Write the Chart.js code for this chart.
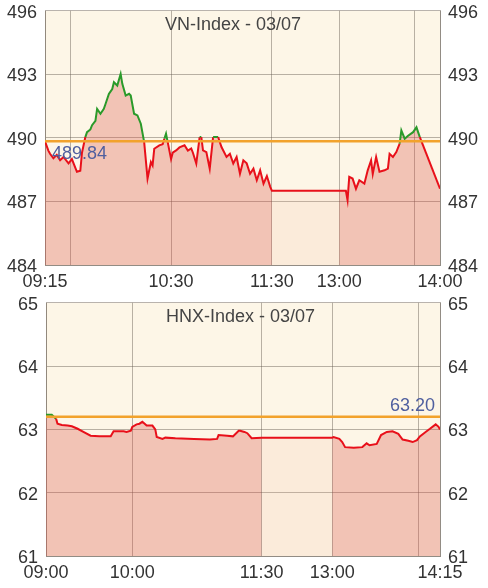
<!DOCTYPE html>
<html>
<head>
<meta charset="utf-8">
<script src="https://cdn.jsdelivr.net/npm/chart.js@4"></script>
<style>
  html, body { margin: 0; padding: 0; background: #fff; }
  .box { position: absolute; left: 0; width: 488px; }
  #vn-box { top: 0; height: 292px; }
  #hnx-box { top: 292px; height: 296px; }
</style>
</head>
<body>
<div class="box" id="vn-box"><canvas id="vn-chart"></canvas></div>
<div class="box" id="hnx-box"><canvas id="hnx-chart"></canvas></div>
<script>
// VN-Index intraday
const vnTimes = [
  '09:15', '09:17', '09:18', '09:20', '09:22', '09:24', '09:26', '09:29', '09:31', '09:33',
  '09:34', '09:36', '09:37', '09:39', '09:40', '09:42', '09:43', '09:45', '09:46', '09:48',
  '09:50', '09:51', '09:53', '09:55', '09:56', '09:58', '10:00', '10:01', '10:03', '10:05',
  '10:06', '10:08', '10:10', '10:12', '10:14', '10:16', '10:18', '10:19', '10:20', '10:23',
  '10:25', '10:26', '10:27', '10:28', '10:30', '10:31', '10:33', '10:35', '10:38', '10:40',
  '10:42', '10:43', '10:45', '10:47', '10:48', '10:49', '10:51', '10:53', '10:55', '10:58',
  '11:00', '11:03', '11:05', '11:07', '11:09', '11:11', '11:13', '11:15', '11:17', '11:19',
  '11:21', '11:23', '11:25', '11:27', '11:29', '11:30', '13:00', '13:04', '13:05', '13:06',
  '13:08', '13:10', '13:12', '13:15', '13:17', '13:19', '13:20', '13:22', '13:24', '13:27',
  '13:29', '13:30', '13:32', '13:34', '13:36', '13:37', '13:39', '13:41', '13:44', '13:46',
  '13:48', '14:00',
];
const vnValues = [
  489.84, 489.4, 489.25, 489.04, 489.2, 488.95, 489.1, 488.8, 489.0, 488.6,
  488.4, 488.45, 489.3, 490.04, 490.27, 490.4, 490.6, 490.8, 491.37, 491.14,
  491.37, 491.6, 492.08, 492.31, 492.63, 492.47, 493.02, 492.55, 492.0, 492.08,
  492.0, 491.14, 491.06, 490.67, 489.8, 488.08, 488.86, 488.7, 489.49, 489.65,
  489.7, 489.96, 490.2, 489.8, 489.0, 489.3, 489.41, 489.55, 489.65, 489.4,
  489.5, 489.3, 488.79, 490.04, 490.04, 489.41, 489.33, 488.55, 490.04, 490.04,
  489.57, 489.1, 489.25, 488.79, 489.1, 488.31, 488.94, 488.8, 488.31, 488.55,
  488.0, 488.47, 487.84, 488.2, 487.69, 487.5, 487.5, 487.5, 487.06, 488.16,
  488.08, 487.6, 488.0, 487.84, 488.47, 488.94, 488.3, 489.1, 488.4, 488.47,
  488.55, 489.25, 489.1, 489.33, 489.73, 490.35, 489.96, 490.1, 490.27, 490.5,
  490.04, 487.6,
];
const vnRef = 489.84;
const vnTickTimes = ['09:15', '09:30', '10:30', '11:30', '13:00', '13:45', '14:00'];
const vnTickLabels = ['09:15', '', '10:30', '11:30', '13:00', '', '14:00'];
const vnYTicks = [484, 487, 490, 493, 496];

// HNX-Index intraday
const hnxTimes = [
  '09:00', '09:04', '09:07', '09:08', '09:11', '09:15', '09:18', '09:22', '09:26', '09:31',
  '09:37', '09:45', '09:47', '09:54', '09:56', '09:59', '10:00', '10:03', '10:05', '10:07',
  '10:09', '10:10', '10:14', '10:16', '10:17', '10:21', '10:23', '10:30', '10:43', '10:54',
  '10:59', '11:00', '11:06', '11:10', '11:14', '11:15', '11:18', '11:20', '11:23', '11:30',
  '13:00', '13:01', '13:05', '13:07', '13:09', '13:15', '13:21', '13:24', '13:26', '13:31',
  '13:34', '13:38', '13:42', '13:46', '13:49', '13:53', '13:56', '13:59', '14:01', '14:05',
  '14:08', '14:12', '14:14', '14:15',
];
const hnxValues = [
  63.23, 63.23, 63.17, 63.09, 63.07, 63.06, 63.05, 63.01, 62.96, 62.9,
  62.89, 62.89, 62.97, 62.97, 62.96, 62.98, 63.04, 63.08, 63.09, 63.12,
  63.08, 63.06, 63.06, 63.0, 62.88, 62.85, 62.87, 62.86, 62.85, 62.84,
  62.85, 62.91, 62.9, 62.89, 62.98, 62.98, 62.96, 62.94, 62.86, 62.87,
  62.87, 62.88, 62.85, 62.8, 62.72, 62.71, 62.72, 62.78, 62.75, 62.77,
  62.91, 62.96, 62.97, 62.93, 62.84, 62.82, 62.8, 62.83, 62.89, 62.96,
  63.01, 63.08, 63.04, 63.0,
];
const hnxRef = 63.2;
const hnxTickTimes = ['09:00', '10:00', '11:30', '13:00', '14:00', '14:15'];
const hnxTickLabels = ['09:00', '10:00', '11:30', '13:00', '', '14:15'];
const hnxYTicks = [61, 62, 63, 64, 65];

const COLORS = {
  plotBg: '#fdf6e7',
  fill: 'rgba(218, 80, 72, 0.31)',
  lunchFill: 'rgba(240, 178, 150, 0.16)',
  up: '#2a9a2a',
  down: '#e8101a',
  ref: '#f2a22c',
  grid: 'rgba(100, 90, 80, 0.45)',
  text: '#333',
  title: '#444',
  refText: '#4f5f9f',
};

const FONT = "'Liberation Sans', Arial, sans-serif";

function toMinutes(time) {
  const [h, m] = time.split(':').map(Number);
  return h * 60 + m;
}

// the lunch break is squeezed into a narrow column
function sessionX(time, open, lunchWidth) {
  const m = toMinutes(time);
  const lunchStart = toMinutes('11:30');
  const lunchEnd = toMinutes('13:00');
  const start = toMinutes(open);
  if (m <= lunchStart) return m - start;
  return lunchStart - start + lunchWidth + (m - lunchEnd);
}

const sessionDecor = {
  id: 'sessionDecor',
  beforeDraw(chart) {
    const { ctx, chartArea: a } = chart;
    ctx.save();
    ctx.fillStyle = COLORS.plotBg;
    ctx.fillRect(a.left, a.top, a.right - a.left, a.bottom - a.top);
    ctx.restore();
  },
  afterDatasetsDraw(chart, args, opts) {
    const { ctx, chartArea: a } = chart;
    ctx.save();
    ctx.font = '18px ' + FONT;
    ctx.textBaseline = 'middle';
    ctx.fillStyle = COLORS.title;
    ctx.textAlign = 'left';
    ctx.fillText(opts.title, a.left + 120, a.top + 14);

    const refY = chart.scales.y.getPixelForValue(opts.ref);
    ctx.fillStyle = COLORS.refText;
    if (opts.refAlign === 'left') {
      ctx.textAlign = 'left';
      ctx.fillText(opts.refText, a.left + 7, refY + opts.refDy);
    } else {
      ctx.textAlign = 'right';
      ctx.fillText(opts.refText, a.right - 5, refY + opts.refDy);
    }
    ctx.restore();
  },
};

function tickFont() {
  return { family: FONT, size: 18 };
}

function createIndexChart(canvasId, cfg) {
  const toX = (t) => sessionX(t, cfg.open, cfg.lunchWidth);
  const points = cfg.times.map((t, i) => ({ x: toX(t), y: cfg.values[i] }));
  const tickValues = cfg.tickTimes.map(toX);
  const xMin = tickValues[0];
  const xMax = tickValues[tickValues.length - 1];
  const lunchStartX = toX('11:30');
  const lunchEndX = toX('13:00');
  const labelAt = {};
  tickValues.forEach((v, i) => (labelAt[v] = cfg.tickLabels[i]));

  // trading sessions get the pink area, the lunch column a paler one
  const sessionPoints = [
    ...points.filter((p) => p.x <= lunchStartX),
    { x: (lunchStartX + lunchEndX) / 2, y: null },
    ...points.filter((p) => p.x >= lunchEndX),
  ];
  const lunchPoints = points.filter((p) => p.x >= lunchStartX && p.x <= lunchEndX);

  const yMin = cfg.yTicks[0];
  const yMax = cfg.yTicks[cfg.yTicks.length - 1];
  const yStep = cfg.yTicks[1] - cfg.yTicks[0];

  const data = {
    datasets: [
      {
        data: [
          { x: xMin, y: cfg.ref },
          { x: xMax, y: cfg.ref },
        ],
        borderColor: COLORS.ref,
        borderWidth: 2.5,
        pointRadius: 0,
        fill: false,
        order: 0,
      },
      {
        data: points,
        borderWidth: 2,
        pointRadius: 0,
        tension: 0,
        fill: false,
        borderColor: COLORS.down,
        order: 1,
        segment: {
          borderColor: (c) =>
            (c.p0.parsed.y + c.p1.parsed.y) / 2 >= cfg.ref ? COLORS.up : COLORS.down,
        },
      },
      {
        data: sessionPoints,
        borderWidth: 0,
        borderColor: 'transparent',
        pointRadius: 0,
        spanGaps: false,
        fill: 'start',
        backgroundColor: COLORS.fill,
        order: 2,
      },
      {
        data: lunchPoints,
        borderWidth: 0,
        borderColor: 'transparent',
        pointRadius: 0,
        fill: 'start',
        backgroundColor: COLORS.lunchFill,
        order: 3,
      },
    ],
  };

  const yTicks = {
    stepSize: yStep,
    padding: 0,
    labelOffset: 2,
    color: COLORS.text,
    font: tickFont(),
  };

  const options = {
    responsive: true,
    maintainAspectRatio: false,
    animation: false,
    layout: { padding: { top: 10, left: 0, right: 0, bottom: 0 } },
    plugins: {
      legend: { display: false },
      tooltip: { enabled: false },
      sessionDecor: {
        title: cfg.title,
        ref: cfg.ref,
        refText: cfg.ref.toFixed(2),
        refAlign: cfg.refAlign,
        refDy: cfg.refDy,
      },
    },
    scales: {
      x: {
        type: 'linear',
        min: xMin,
        max: xMax,
        afterBuildTicks: (scale) => {
          scale.ticks = tickValues.map((v) => ({ value: v }));
        },
        afterFit: (scale) => {
          scale.height = cfg.xAxisHeight;
        },
        grid: { color: COLORS.grid, drawTicks: false },
        border: { color: COLORS.grid },
        ticks: {
          autoSkip: false,
          maxRotation: 0,
          padding: 6,
          color: COLORS.text,
          font: tickFont(),
          callback: (v) => labelAt[v] ?? '',
        },
      },
      y: {
        position: 'left',
        min: yMin,
        max: yMax,
        afterFit: (scale) => {
          scale.width = cfg.leftWidth;
        },
        grid: { color: COLORS.grid, tickLength: 8, tickColor: 'transparent' },
        border: { color: COLORS.grid },
        ticks: yTicks,
      },
      y2: {
        position: 'right',
        min: yMin,
        max: yMax,
        afterFit: (scale) => {
          scale.width = 48;
        },
        grid: { drawOnChartArea: false, tickLength: 8, tickColor: 'transparent' },
        border: { color: COLORS.grid },
        ticks: yTicks,
      },
    },
  };

  const ctx = document.getElementById(canvasId).getContext('2d');
  new Chart(ctx, {
    type: 'line',
    data: data,
    options: options,
    plugins: [sessionDecor],
  });
}

createIndexChart('vn-chart', {
  title: 'VN-Index - 03/07',
  times: vnTimes,
  values: vnValues,
  ref: vnRef,
  tickTimes: vnTickTimes,
  tickLabels: vnTickLabels,
  yTicks: vnYTicks,
  open: '09:15',
  lunchWidth: 40,
  leftWidth: 45,
  xAxisHeight: 27,
  refAlign: 'left',
  refDy: 13,
});

createIndexChart('hnx-chart', {
  title: 'HNX-Index - 03/07',
  times: hnxTimes,
  values: hnxValues,
  ref: hnxRef,
  tickTimes: hnxTickTimes,
  tickLabels: hnxTickLabels,
  yTicks: hnxYTicks,
  open: '09:00',
  lunchWidth: 49,
  leftWidth: 46,
  xAxisHeight: 32,
  refAlign: 'right',
  refDy: -11,
});
</script>
</body>
</html>
